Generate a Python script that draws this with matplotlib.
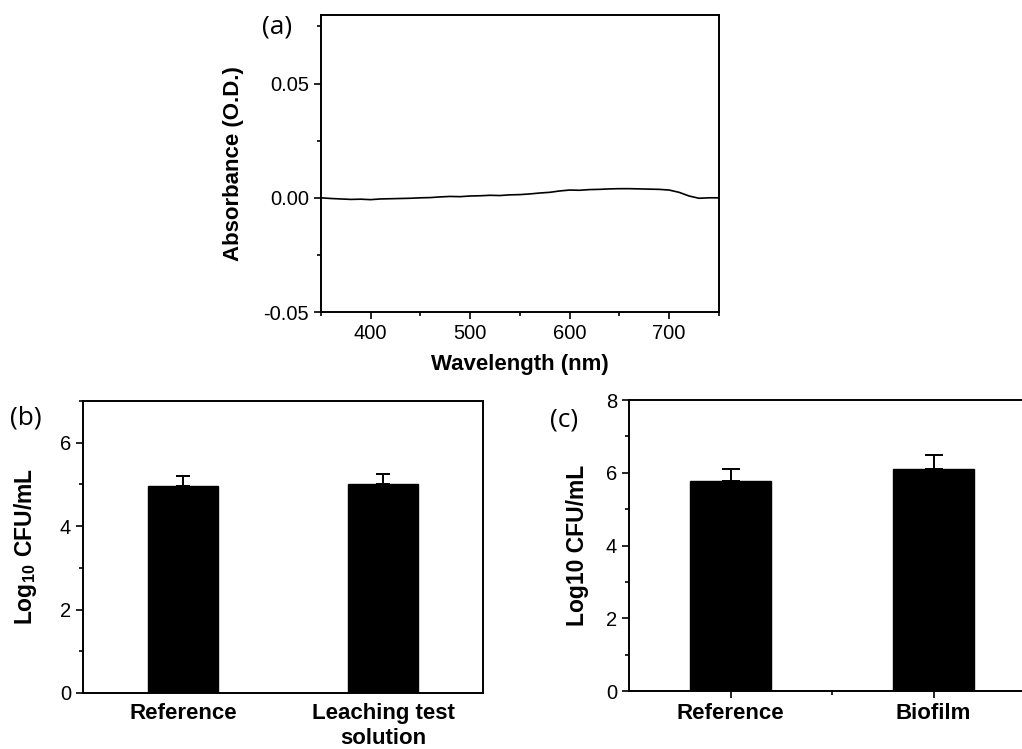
import numpy as np
import matplotlib
matplotlib.use("Agg")
import matplotlib.pyplot as plt
from matplotlib.ticker import MultipleLocator

plt.rcParams['font.family'] = ['Liberation Sans', 'DejaVu Sans']
plt.rcParams['mathtext.fontset'] = 'custom'
plt.rcParams['mathtext.bf'] = 'Liberation Sans:bold'
plt.rcParams['mathtext.rm'] = 'Liberation Sans'

# (a) absorbance spectrum
wavelength = [350, 360, 370, 380, 390, 400, 410, 420, 430, 440, 450, 460, 470,
              480, 490, 500, 510, 520, 530, 540, 550, 560, 570, 580, 590, 600,
              610, 620, 630, 640, 650, 660, 670, 680, 690, 700, 710, 720, 730,
              740, 750]
absorbance = [0.0000, -0.0003, -0.0005, -0.0007, -0.0006, -0.0008, -0.0005,
              -0.0004, -0.0003, -0.0002, 0.0000, 0.0001, 0.0004, 0.0006,
              0.0005, 0.0008, 0.0009, 0.0011, 0.0010, 0.0013, 0.0014, 0.0017,
              0.0021, 0.0024, 0.0030, 0.0034, 0.0033, 0.0036, 0.0037, 0.0039,
              0.0040, 0.0040, 0.0039, 0.0038, 0.0037, 0.0034, 0.0024, 0.0008,
              -0.0002, 0.0000, 0.0000]

# (b) leaching test
b_labels = ['Reference', 'Leaching test\nsolution']
b_values = [4.97, 5.02]
b_errors = [0.24, 0.22]

# (c) biofilm
c_labels = ['Reference', 'Biofilm']
c_values = [5.78, 6.10]
c_errors = [0.33, 0.40]

fig = plt.figure(figsize=(10.22, 7.49), dpi=100)
axa = fig.add_axes([0.314, 0.5834, 0.3894, 0.3965])
axb = fig.add_axes([0.0812, 0.0748, 0.3914, 0.3899])
axc = fig.add_axes([0.6155, 0.0774, 0.3973, 0.3885])

for ax in (axa, axb, axc):
    for s in ax.spines.values():
        s.set_linewidth(1.4)
    ax.tick_params(which='both', direction='out', width=1.2, labelsize=14.5)
    ax.tick_params(which='major', length=5)
    ax.tick_params(which='minor', length=3)

# panel a
axa.plot(wavelength, absorbance, color='black', lw=1.2)
axa.set_xlim(350, 750)
axa.set_ylim(-0.05, 0.08)
axa.set_yticks([-0.05, 0.00, 0.05])
axa.yaxis.set_major_formatter(matplotlib.ticker.FormatStrFormatter('%.2f'))
axa.xaxis.set_major_locator(MultipleLocator(100))
axa.xaxis.set_minor_locator(MultipleLocator(50))
axa.yaxis.set_minor_locator(MultipleLocator(0.025))
axa.set_xlabel('Wavelength (nm)', fontsize=16, fontweight='bold', labelpad=8)
axa.set_ylabel('Absorbance (O.D.)', fontsize=16, fontweight='bold', labelpad=14)

# panel b
xb = np.arange(len(b_labels))
axb.bar(xb, b_values, width=0.35, color='black', edgecolor='black',
        yerr=[[0, 0], b_errors], capsize=4.7,
        error_kw=dict(elinewidth=1.4, capthick=1.4, ecolor='black'))
axb.set_xlim(-0.5, 1.5)
axb.set_ylim(0, 7)
axb.set_yticks([0, 2, 4, 6])
axb.yaxis.set_minor_locator(MultipleLocator(1))
axb.set_xticks(xb)
axb.set_xticklabels(b_labels, fontsize=16, fontweight='bold', linespacing=1.25)
axb.tick_params(axis='x', which='both', length=0, pad=7)
axb.set_ylabel(r'$\mathbf{Log_{10}\ CFU/mL}$', fontsize=16.5, labelpad=15)

# panel c
xc = np.arange(len(c_labels))
axc.bar(xc, c_values, width=0.4, color='black', edgecolor='black',
        yerr=[[0, 0], c_errors], capsize=6.8,
        error_kw=dict(elinewidth=1.4, capthick=1.4, ecolor='black'))
axc.set_xlim(-0.5, 1.5)
axc.set_ylim(0, 8)
axc.set_yticks([0, 2, 4, 6, 8])
axc.yaxis.set_minor_locator(MultipleLocator(1))
axc.set_xticks(xc)
axc.set_xticks([0.5], minor=True)
axc.set_xticklabels(c_labels, fontsize=16, fontweight='bold')
axc.set_ylabel('Log10 CFU/mL', fontsize=16.5, fontweight='bold', labelpad=12)

# panel letters
fig.text(262 / 1022, 1 - 27 / 749, '(a)', fontsize=19, family='Open Sans',
         ha='left', va='center')
fig.text(10 / 1022, 1 - 418 / 749, '(b)', fontsize=19, family='Open Sans',
         ha='left', va='center')
fig.text(550 / 1022, 1 - 420 / 749, '(c)', fontsize=19, family='Open Sans',
         ha='left', va='center')

fig.savefig('out.png', dpi=100)
